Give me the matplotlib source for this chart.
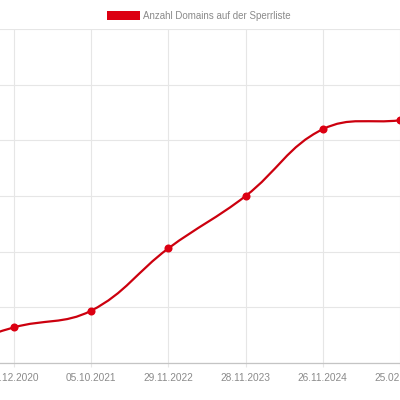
import numpy as np
import matplotlib
matplotlib.use("Agg")
import matplotlib.pyplot as plt
from matplotlib.path import Path
from matplotlib.patches import PathPatch, Patch

# ---- data ----
dates = ["11.03.2020", "16.12.2020", "05.10.2021", "29.11.2022",
         "28.11.2023", "26.11.2024", "25.02.2025"]
domains = [8, 32, 47, 103, 150, 210, 218]
series_label = "Anzahl Domains auf der Sperrliste"

RED = "#dc0012"
LINE = "#cc000e"
GRID = "#e6e6e6"
TXT = "#8a8a8a"

plt.rcParams['font.family'] = ['Liberation Sans', 'DejaVu Sans']

fig = plt.figure(figsize=(4, 4), dpi=100)
ax = fig.add_axes([0.0, 37 / 400, 1.0, (363 - 29) / 400])

x = np.arange(len(dates))
y = np.array(domains, dtype=float)

ax.set_xticks(x)
ax.set_xticklabels(dates)
ax.set_yticks(np.arange(0, 301, 50))
sp = 77.2
ax.set_xlim(1 - 14 / sp, 1 + 386 / sp)
ax.set_ylim(0, 300)
ax.tick_params(axis='x', colors=GRID, labelcolor=TXT, labelsize=7.3, length=3, pad=4)
ax.tick_params(axis='y', left=False, labelleft=False)
ax.grid(True, color=GRID, linewidth=0.8)
ax.set_axisbelow(True)
for s in ['top', 'left', 'right']:
    ax.spines[s].set_visible(False)
ax.spines['bottom'].set_color('#c4c4c4')
ax.spines['bottom'].set_linewidth(0.9)

# Chart.js style bezier (tension 0.4) computed in display space
fig.canvas.draw()
pts = ax.transData.transform(np.column_stack([x, y]))
t = 0.4
n = len(pts)
cp_prev = np.zeros_like(pts)
cp_next = np.zeros_like(pts)
for i in range(n):
    cur = pts[i]
    prv = pts[i - 1] if i > 0 else cur
    nxt = pts[i + 1] if i < n - 1 else cur
    d01 = np.hypot(*(cur - prv))
    d12 = np.hypot(*(nxt - cur))
    tot = d01 + d12
    s01 = d01 / tot if tot else 0
    s12 = d12 / tot if tot else 0
    fa = t * s01
    fb = t * s12
    cp_prev[i] = cur - fa * (nxt - prv)
    cp_next[i] = cur + fb * (nxt - prv)

verts = [pts[0]]
codes = [Path.MOVETO]
for i in range(n - 1):
    verts += [cp_next[i], cp_prev[i + 1], pts[i + 1]]
    codes += [Path.CURVE4] * 3
inv = ax.transData.inverted()
verts_data = inv.transform(np.array(verts))
path = Path(verts_data, codes)
ax.add_patch(PathPatch(path, facecolor='none', edgecolor=LINE, linewidth=1.6,
                       capstyle='round', joinstyle='round'))
ax.plot(x, y, 'o', ls='none', color=RED, markersize=5.8, markeredgewidth=0,
        clip_on=False)
ax.set_xlim(1 - 14 / sp, 1 + 386 / sp)
ax.set_ylim(0, 300)

handle = Patch(facecolor=RED, edgecolor='none', linewidth=0)
leg = ax.legend([handle], [series_label], loc='center',
                bbox_to_anchor=(0.4975, 1 - 16 / 400), bbox_transform=fig.transFigure,
                frameon=False, fontsize=7, handlelength=3.4, handleheight=1.0,
                handletextpad=0.3, borderpad=0, borderaxespad=0)
for tx in leg.get_texts():
    tx.set_color(TXT)

fig.savefig("out.png", dpi=100)
